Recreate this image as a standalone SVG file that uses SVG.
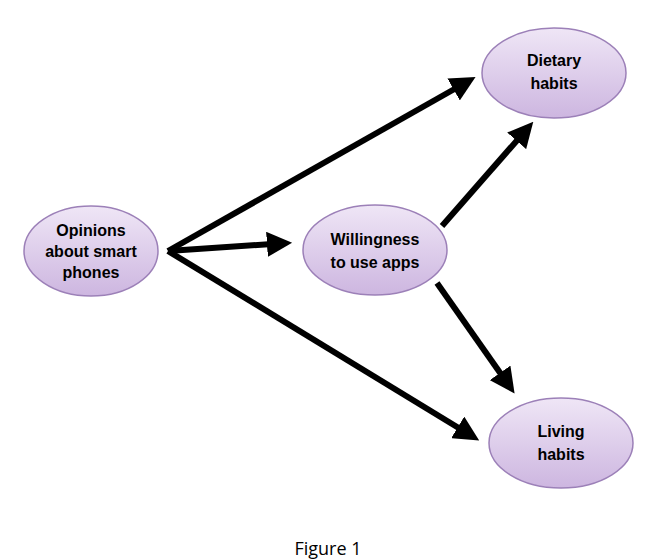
<svg xmlns="http://www.w3.org/2000/svg" width="656" height="560" viewBox="0 0 656 560">
<style>
.n{fill:url(#g);stroke:#9c80b8;stroke-width:1.5}
.t{font-family:"Liberation Sans",Arial,sans-serif;font-weight:bold;font-size:16px;fill:#000;text-anchor:middle}
.c line{stroke:#000;stroke-width:6;marker-end:url(#a)}
</style>
<defs>
<linearGradient id="g" x1="0" y1="0" x2="0" y2="1"><stop offset="0" stop-color="#efe6f6"/><stop offset="1" stop-color="#cdb6e0"/></linearGradient>
<marker id="a" viewBox="0 0 10 10" refX="2" refY="5" markerWidth="4.2" markerHeight="4.2" orient="auto" markerUnits="strokeWidth"><path d="M0,0L10,5L0,10z" fill="#000"/></marker>
</defs>
<rect width="656" height="560" fill="#fff"/>
<g class="c">
<line x1="168" y1="251" x2="458" y2="87"/>
<line x1="168" y1="251" x2="272" y2="244"/>
<line x1="168" y1="251" x2="462" y2="430"/>
<line x1="442" y1="226" x2="520" y2="137"/>
<line x1="437" y1="283" x2="503" y2="377"/>
</g>
<g id="opinions"><ellipse class="n" cx="91" cy="251" rx="67" ry="45"/><text class="t" x="91" y="236">Opinions</text><text class="t" x="91" y="257">about smart</text><text class="t" x="91" y="278">phones</text></g>
<g id="willingness"><ellipse class="n" cx="375" cy="250" rx="72" ry="45"/><text class="t" x="375" y="245">Willingness</text><text class="t" x="375" y="268">to use apps</text></g>
<g id="dietary"><ellipse class="n" cx="554" cy="73" rx="72" ry="45"/><text class="t" x="554" y="66">Dietary</text><text class="t" x="554" y="89">habits</text></g>
<g id="living"><ellipse class="n" cx="561" cy="443" rx="72" ry="45"/><text class="t" x="561" y="437">Living</text><text class="t" x="561" y="460">habits</text></g>
<text x="328" y="555" font-family="'Open Sans','Liberation Sans',sans-serif" font-size="18" text-anchor="middle">Figure 1</text>
</svg>
